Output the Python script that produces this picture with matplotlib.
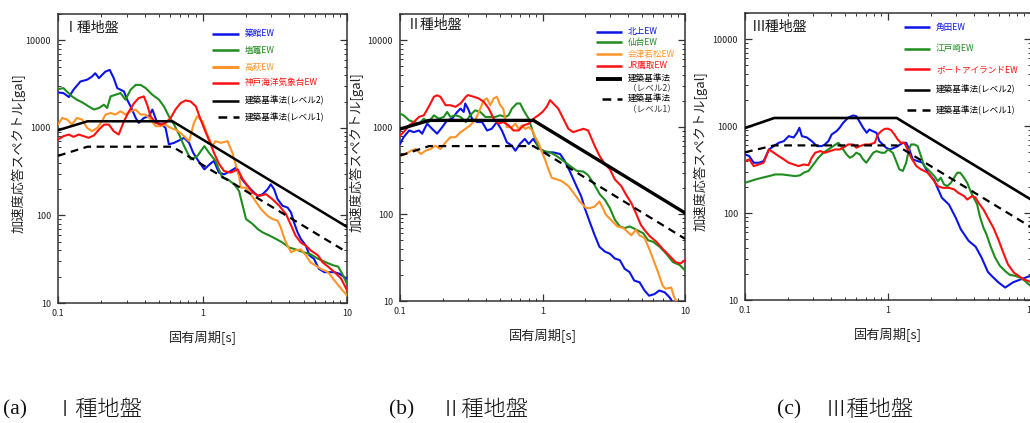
import matplotlib
matplotlib.use('Agg')
import matplotlib.pyplot as plt
from matplotlib.ticker import LogLocator, NullFormatter

plt.rcParams['font.family'] = ['Noto Sans CJK JP', 'DejaVu Sans']

BLUE = '#0a14e6'
GREEN = '#1f8c1f'
ORANGE = '#ff9428'
RED = '#ff1010'

# ---- I種地盤 ----
T_TSUKIDATE = [0.1, 0.109, 0.119, 0.128, 0.143, 0.159, 0.172, 0.181, 0.192, 0.202, 0.213, 0.228, 0.243, 0.257,
               0.286, 0.301, 0.322, 0.345, 0.362, 0.393, 0.426, 0.45, 0.486, 0.522, 0.555, 0.585, 0.636, 0.689,
               0.746, 0.808, 0.862, 0.936, 1.03, 1.12, 1.2, 1.3, 1.41, 1.57, 1.7, 1.84, 2.0, 2.22, 2.41, 2.61,
               2.82, 2.97, 3.13, 3.31, 3.58, 3.88, 4.1, 4.3, 4.55, 4.79, 5.2, 5.5, 5.9, 6.4, 6.97, 7.6, 8.2,
               8.9, 9.6, 10]
A_TSUKIDATE = [2540, 2500, 2250, 2730, 3390, 3550, 3860, 4210, 3700, 4040, 4400, 4600, 3700, 2850,
               2610, 2100, 1690, 1300, 1140, 1300, 1360, 1620, 1140, 1090, 1000, 650, 675, 720,
               770, 675, 520, 420, 336, 383, 420, 308, 295, 322, 351, 270, 227, 190, 167, 175,
               199, 227, 199, 153, 129, 123, 108, 83, 64, 54, 45, 35, 32, 24.5, 22.5, 22.5, 22.5,
               21.5, 19.7, 19]

T_SHIOGAMA = [0.1, 0.109, 0.115, 0.125, 0.135, 0.147, 0.163, 0.177, 0.192, 0.208, 0.219, 0.231, 0.25, 0.271,
              0.293, 0.318, 0.345, 0.373, 0.404, 0.45, 0.5, 0.541, 0.585, 0.636, 0.689, 0.746, 0.83, 0.92,
              1.03, 1.11, 1.23, 1.37, 1.49, 1.66, 1.79, 2.0, 2.22, 2.41, 2.61, 2.9, 3.22, 3.58, 3.98, 4.4,
              5.0, 5.6, 6.3, 7.2, 8.0, 8.7, 9.4, 10]
A_SHIOGAMA = [2770, 2850, 2610, 2290, 2100, 1960, 1760, 1620, 1690, 1840, 1690, 2290, 2390, 2500,
              2100, 2730, 3100, 3100, 2850, 2390, 2100, 1760, 1360, 1090, 840, 620, 437, 476,
              619, 520, 420, 270, 259, 227, 190, 91, 80, 70, 64, 59, 54, 49, 43, 41,
              38, 36, 32, 29, 27, 26, 20.6, 16.5]

T_TAKAHAGI = [0.1, 0.107, 0.116, 0.125, 0.135, 0.147, 0.159, 0.172, 0.187, 0.202, 0.213, 0.231, 0.25, 0.271,
              0.293, 0.318, 0.345, 0.373, 0.404, 0.437, 0.474, 0.513, 0.555, 0.602, 0.65, 0.705, 0.746, 0.808,
              0.872, 0.92, 1.0, 1.08, 1.17, 1.23, 1.34, 1.49, 1.61, 1.79, 1.84, 2.0, 2.28, 2.54, 2.82, 3.05,
              3.31, 3.48, 3.69, 3.88, 4.1, 4.4, 4.79, 5.2, 5.6, 6.03, 6.6, 7.4, 8.2, 9.1, 10]
A_TAKAHAGI = [1090, 1300, 1245, 1090, 1300, 1245, 1000, 916, 1000, 1190, 1420, 1480, 1420, 1550,
              1420, 1550, 1620, 1420, 1420, 1245, 1045, 1045, 1090, 1000, 957, 877, 804, 705,
              1140, 1358, 1190, 840, 619, 705, 675, 705, 520, 282, 208, 208, 153, 118, 99, 91,
              87, 73, 54, 45, 38, 40, 41, 35, 29, 27, 24.5, 22.5, 18, 14.6, 12.2]

T_KOBE = [0.1, 0.109, 0.119, 0.128, 0.139, 0.151, 0.163, 0.177, 0.192, 0.208, 0.225, 0.243, 0.263, 0.286,
          0.31, 0.336, 0.362, 0.393, 0.414, 0.437, 0.474, 0.513, 0.555, 0.602, 0.65, 0.705, 0.764, 0.829,
          0.9, 0.97, 1.05, 1.14, 1.2, 1.3, 1.41, 1.57, 1.75, 1.9, 2.06, 2.22, 2.47, 2.75, 3.05, 3.4,
          3.79, 4.1, 4.4, 4.79, 5.2, 5.6, 6.3, 6.8, 7.4, 8.2, 9.1, 10]
A_KOBE = [737, 804, 840, 790, 840, 804, 770, 820, 957, 1090, 1090, 916, 840, 1190,
          1550, 1920, 2190, 2290, 1840, 1360, 1140, 1090, 1140, 1300, 1620, 1920, 2060, 2000,
          1760, 1250, 900, 650, 520, 390, 322, 308, 337, 259, 217, 182, 167, 175, 153, 129,
          103, 77, 59, 49, 45, 40, 35, 29, 26, 22.5, 19, 14]

LV_T_1 = [0.1, 0.16, 0.62, 10]
LV2_A_1 = [940, 1190, 1190, 74]
LV1_A_1 = [480, 610, 610, 38]

# ---- II種地盤 ----
T_KITAKAMI = [0.1, 0.106, 0.116, 0.125, 0.136, 0.143, 0.155, 0.168, 0.182, 0.198, 0.214, 0.232, 0.252, 0.266,
              0.28, 0.287, 0.3, 0.32, 0.347, 0.377, 0.408, 0.44, 0.478, 0.519, 0.562, 0.61, 0.645, 0.694,
              0.751, 0.8, 0.86, 0.91, 0.96, 1.07, 1.19, 1.33, 1.43, 1.55, 1.73, 1.87, 1.98, 2.14, 2.32,
              2.51, 2.74, 2.97, 3.22, 3.49, 3.77, 4.08, 4.4, 4.8, 5.2, 5.6, 6.1, 6.6, 7.2, 7.8, 8.2, 8.6]
A_KITAKAMI = [640, 765, 915, 875, 915, 840, 1095, 956, 840, 1000, 1195, 1250, 1494, 1633,
              1494, 1870, 1633, 1250, 1143, 1143, 915, 956, 1143, 915, 669, 612, 535, 640,
              732, 640, 732, 640, 560, 512, 512, 490, 410, 314, 210, 160, 117, 82, 57.5,
              42, 37, 35, 30.8, 29.5, 23.5, 21.5, 17.2, 16.4, 13.2, 11.5, 12, 13.2, 12.6, 11, 9.6, 8]

T_SENDAI = [0.1, 0.106, 0.116, 0.125, 0.136, 0.147, 0.159, 0.173, 0.187, 0.203, 0.214, 0.226, 0.245, 0.266,
            0.29, 0.31, 0.337, 0.366, 0.397, 0.43, 0.466, 0.505, 0.548, 0.578, 0.61, 0.66, 0.697, 0.736,
            0.8, 0.864, 0.935, 1.0, 1.13, 1.25, 1.4, 1.56, 1.74, 1.94, 2.09, 2.27, 2.53, 2.74, 2.97,
            3.22, 3.49, 3.78, 4.1, 4.56, 5.1, 5.5, 5.96, 6.64, 7.39, 8.23, 9.16, 10]
A_SENDAI = [1430, 1367, 1195, 1143, 1095, 1250, 1143, 1367, 1250, 1310, 1494, 1310, 1367, 1310,
            1143, 1367, 1560, 1494, 1310, 1310, 1310, 1367, 1310, 1367, 1633, 1870, 1870, 1560,
            1250, 840, 585, 535, 512, 468, 410, 358, 314, 308, 280, 229, 168, 146, 117,
            86, 72, 69, 72, 66, 60, 50, 48, 42, 35, 28, 26, 22.5]

T_AIZU = [0.1, 0.11, 0.119, 0.129, 0.14, 0.151, 0.164, 0.177, 0.192, 0.209, 0.226, 0.245, 0.266, 0.288,
          0.31, 0.337, 0.366, 0.387, 0.408, 0.43, 0.454, 0.478, 0.505, 0.53, 0.562, 0.61, 0.645, 0.68,
          0.72, 0.755, 0.8, 0.85, 0.89, 0.94, 0.99, 1.05, 1.1, 1.16, 1.26, 1.36, 1.52, 1.64, 1.82,
          2.03, 2.15, 2.32, 2.51, 2.65, 2.79, 3.1, 3.36, 3.7, 4.2, 4.52, 4.79, 5.2, 5.6, 5.9, 6.4,
          6.97, 7.3, 8.0, 8.4, 8.9]
A_AIZU = [468, 490, 535, 560, 490, 535, 560, 612, 560, 669, 765, 765, 875, 956,
          1046, 1195, 1633, 2040, 2135, 1786, 2135, 2235, 1786, 1633, 1000, 1000, 1095, 956,
          1046, 956, 1000, 915, 765, 650, 520, 409, 328, 262, 250, 240, 210, 178, 140,
          117, 117, 122, 140, 117, 98, 82, 72, 69, 57, 66, 57, 53, 40, 32, 22.5,
          15, 13.8, 14.3, 11, 9.4]

T_TAKATORI = [0.1, 0.106, 0.116, 0.125, 0.136, 0.147, 0.159, 0.173, 0.182, 0.192, 0.209, 0.226, 0.245, 0.266,
              0.29, 0.3, 0.329, 0.357, 0.387, 0.42, 0.454, 0.49, 0.53, 0.578, 0.626, 0.68, 0.736, 0.8,
              0.864, 0.935, 1.0, 1.07, 1.13, 1.19, 1.29, 1.4, 1.52, 1.64, 1.78, 1.94, 2.09, 2.32, 2.51,
              2.74, 2.97, 3.22, 3.57, 3.85, 4.2, 4.52, 4.9, 5.3, 5.7, 6.3, 6.95, 7.7, 8.6, 9.3, 10]
A_TAKATORI = [800, 875, 1046, 1143, 1310, 1367, 1710, 2235, 2320, 2235, 1786, 1786, 1710, 1870,
              2235, 2335, 2235, 2135, 1953, 1633, 1250, 1095, 1143, 1046, 915, 915, 1046, 1095,
              1250, 1367, 1494, 1710, 2040, 1870, 1633, 1250, 956, 875, 915, 956, 915, 612, 468,
              375, 328, 250, 210, 168, 134, 103, 75, 63, 55, 48, 40, 33.7, 28, 27, 29.5]

LV_T_2 = [0.1, 0.16, 0.864, 10]
LV2_A_2 = [950, 1195, 1195, 103]
LV1_A_2 = [470, 605, 605, 52]

# ---- III種地盤 ----
T_KAKUDA = [0.1, 0.107, 0.115, 0.125, 0.135, 0.147, 0.159, 0.172, 0.187, 0.202, 0.219, 0.231, 0.24, 0.25,
            0.271, 0.293, 0.318, 0.345, 0.362, 0.383, 0.404, 0.437, 0.459, 0.486, 0.526, 0.57, 0.6, 0.63,
            0.67, 0.71, 0.74, 0.78, 0.83, 0.87, 0.92, 0.97, 1.03, 1.11, 1.17, 1.27, 1.34, 1.41, 1.49,
            1.61, 1.75, 1.9, 2.1, 2.38, 2.67, 2.98, 3.23, 3.66, 4.1, 4.5, 5.0, 5.3, 5.9, 6.6, 7.5,
            8.5, 9.5, 10]
A_KAKUDA = [473, 452, 379, 379, 396, 539, 589, 643, 672, 767, 740, 838, 957, 767,
            740, 672, 589, 589, 615, 672, 803, 876, 957, 1092, 1250, 1325, 1303, 1140,
            957, 838, 915, 876, 838, 672, 615, 564, 539, 564, 589, 643, 643, 539, 414,
            396, 379, 291, 240, 150, 125, 88, 65, 48, 41, 31, 21, 19, 16, 13.9, 16,
            17.3, 18.5, 19]

T_EDOSAKI = [0.1, 0.109, 0.119, 0.132, 0.147, 0.163, 0.182, 0.202, 0.225, 0.243, 0.257, 0.278, 0.301, 0.326,
             0.353, 0.383, 0.414, 0.45, 0.47, 0.486, 0.513, 0.541, 0.57, 0.6, 0.636, 0.67, 0.705, 0.746,
             0.788, 0.83, 0.9, 0.95, 1.0, 1.08, 1.14, 1.2, 1.27, 1.34, 1.4, 1.45, 1.53, 1.61, 1.7,
             1.79, 1.9, 2.0, 2.11, 2.23, 2.34, 2.46, 2.6, 2.75, 2.9, 3.05, 3.2, 3.4, 3.58, 3.78,
             3.98, 4.2, 4.4, 4.65, 4.9, 5.2, 5.6, 6.03, 6.6, 7.1, 7.8, 8.4, 9.1, 9.6, 10]
A_EDOSAKI = [223, 233, 244, 255, 266, 278, 278, 272, 266, 272, 291, 305, 362, 433,
             494, 539, 589, 643, 589, 539, 473, 433, 452, 494, 473, 414, 379, 433,
             494, 516, 494, 494, 539, 494, 396, 318, 305, 379, 539, 615, 615, 589, 452,
             347, 318, 291, 266, 233, 255, 214, 204, 223, 255, 291, 291, 255, 223, 178,
             150, 126, 90, 68, 56, 42, 31, 25, 21.5, 19.5, 18.9, 18.1, 16.5, 15.2, 14.5]

T_PORT = [0.1, 0.107, 0.115, 0.125, 0.135, 0.147, 0.159, 0.172, 0.187, 0.202, 0.219, 0.237, 0.257, 0.278,
          0.293, 0.31, 0.336, 0.362, 0.393, 0.426, 0.46, 0.486, 0.526, 0.57, 0.6, 0.636, 0.689, 0.746,
          0.808, 0.85, 0.9, 0.95, 1.0, 1.05, 1.11, 1.17, 1.23, 1.3, 1.37, 1.45, 1.58, 1.7, 1.9,
          2.06, 2.23, 2.41, 2.68, 2.9, 3.1, 3.4, 3.58, 3.88, 4.1, 4.3, 4.65, 5.0, 5.45, 5.9, 6.4,
          6.9, 7.6, 8.2, 8.9, 9.6, 10]
A_PORT = [396, 414, 347, 362, 379, 539, 494, 452, 414, 379, 362, 347, 362, 355,
          433, 494, 516, 494, 516, 539, 539, 564, 615, 615, 564, 589, 615, 615,
          643, 803, 880, 930, 935, 900, 800, 700, 643, 643, 539, 433, 347, 318, 291,
          244, 204, 195, 195, 187, 171, 157, 143, 157, 150, 131, 110, 88, 68, 50, 35,
          25.7, 20.6, 18.9, 17.3, 16.5, 16]

LV_T_3 = [0.1, 0.16, 1.15, 10]
LV2_A_3 = [950, 1240, 1240, 143]
LV1_A_3 = [500, 600, 600, 69]

W, H = 1030, 423
fig = plt.figure(figsize=(W / 100, H / 100), dpi=100)
fig.patch.set_facecolor('white')


def panel(left, top, right, bottom, title, title_xy, curves, lv_t, lv2, lv1, lv2_lw, ylab_x):
    ax = fig.add_axes([left / W, 1 - bottom / H, (right - left) / W, (bottom - top) / H])
    ax.set_xscale('log')
    ax.set_yscale('log')
    for t, a, c in curves:
        ax.plot(t, a, color=c, lw=1.5, zorder=3)
    ax.plot(lv_t, lv2, color='black', lw=lv2_lw, zorder=4)
    ax.plot(lv_t, lv1, color='black', lw=1.6, ls=(0, (3.5, 2.5)), zorder=4)
    ax.set_xlim(0.1, 10)
    ax.set_ylim(10, 20000)
    ax.set_xticks([0.1, 1, 10])
    ax.set_xticklabels(['0.1', '1', '10'])
    ax.set_yticks([10, 100, 1000, 10000])
    ax.set_yticklabels(['10', '100', '1000', '10000'])
    for axis in (ax.xaxis, ax.yaxis):
        axis.set_minor_locator(LogLocator(base=10, subs=range(2, 10), numticks=20))
        axis.set_minor_formatter(NullFormatter())
    ax.tick_params(which='both', direction='in', top=True, right=True, colors='#333333',
                   labelsize=6.5, labelcolor='#222222')
    ax.tick_params(which='major', length=5, width=0.9, pad=4)
    ax.tick_params(which='minor', length=2.5, width=0.7)
    ax.tick_params(axis='y', pad=5)
    for s in ax.spines.values():
        s.set_color('#333333')
        s.set_linewidth(1.1)
    ax.text(title_xy[0], title_xy[1], title, transform=ax.transAxes, fontsize=10,
            ha='left', va='center', color='#1a1a1a')
    ax.text(0.5, -0.118, '固有周期[s]', transform=ax.transAxes, fontsize=9.5,
            ha='center', va='center', color='#222222')
    ax.text(ylab_x, 0.52, '加速度応答スペクトル[gal]', transform=ax.transAxes, fontsize=9.5,
            rotation=90, ha='center', va='center', color='#222222')
    return ax


def legend_row(ax, x0, x1, xt, y, color, text, dashed=False, lw=1.8):
    ls = (0, (3.5, 2.5)) if dashed else '-'
    ax.plot([x0, x1], [y, y], transform=ax.transAxes, color=color, lw=lw, ls=ls,
            solid_capstyle='butt', dash_capstyle='butt', clip_on=False, zorder=6)
    ax.text(xt, y, text, transform=ax.transAxes, color=color, fontsize=6.2,
            ha='left', va='center', zorder=6)


# (a) I種地盤
ax1 = panel(58, 14, 347, 303, 'Ⅰ種地盤', (0.02, 0.952),
            [(T_TSUKIDATE, A_TSUKIDATE, BLUE), (T_SHIOGAMA, A_SHIOGAMA, GREEN),
             (T_TAKAHAGI, A_TAKAHAGI, ORANGE), (T_KOBE, A_KOBE, RED)],
            LV_T_1, LV2_A_1, LV1_A_1, 1.8, -0.138)
LX1 = (0.533, 0.625, 0.645)
legend_row(ax1, LX1[0], LX1[1], LX1[2], 0.931, BLUE, '築館EW')
legend_row(ax1, LX1[0], LX1[1], LX1[2], 0.875, GREEN, '塩竈EW')
legend_row(ax1, LX1[0], LX1[1], LX1[2], 0.815, ORANGE, '高萩EW', lw=2.2)
legend_row(ax1, LX1[0], LX1[1], LX1[2], 0.762, RED, '神戸海洋気象台EW')
legend_row(ax1, LX1[0], LX1[1], LX1[2], 0.700, 'black', '建築基準法(レベル2)')
legend_row(ax1, 0.553, LX1[1], LX1[2], 0.643, 'black', '建築基準法(レベル1)', dashed=True)

# (b) II種地盤
ax2 = panel(400, 14, 685, 301, 'Ⅱ種地盤', (0.025, 0.962),
            [(T_KITAKAMI, A_KITAKAMI, BLUE), (T_SENDAI, A_SENDAI, GREEN),
             (T_AIZU, A_AIZU, ORANGE), (T_TAKATORI, A_TAKATORI, RED)],
            LV_T_2, LV2_A_2, LV1_A_2, 2.4, -0.154)
LX2 = (0.688, 0.78, 0.80)
legend_row(ax2, LX2[0], LX2[1], LX2[2], 0.938, BLUE, '北上EW')
legend_row(ax2, LX2[0], LX2[1], LX2[2], 0.901, GREEN, '仙台EW')
legend_row(ax2, LX2[0], LX2[1], LX2[2], 0.860, ORANGE, '会津若松EW')
legend_row(ax2, LX2[0], LX2[1], LX2[2], 0.819, RED, 'JR鷹取EW')
legend_row(ax2, LX2[0], LX2[1], LX2[2], 0.775, 'black', '建築基準法', lw=2.8)
ax2.text(LX2[2], 0.739, '（レベル2）', transform=ax2.transAxes, fontsize=6.2,
         ha='left', va='center', color='#333333')
legend_row(ax2, 0.709, LX2[1], LX2[2], 0.705, 'black', '建築基準法', dashed=True)
ax2.text(LX2[2], 0.668, '（レベル1）', transform=ax2.transAxes, fontsize=6.2,
         ha='left', va='center', color='#333333')

# (c) III種地盤
ax3 = panel(745, 13, 1031, 300, 'Ⅲ種地盤', (0.024, 0.951),
            [(T_KAKUDA, A_KAKUDA, BLUE), (T_EDOSAKI, A_EDOSAKI, GREEN), (T_PORT, A_PORT, RED)],
            LV_T_3, LV2_A_3, LV1_A_3, 1.9, -0.154)
LX3 = (0.556, 0.648, 0.668)
legend_row(ax3, LX3[0], LX3[1], LX3[2], 0.950, BLUE, '角田EW')
legend_row(ax3, LX3[0], LX3[1], LX3[2], 0.875, GREEN, '江戸崎EW')
legend_row(ax3, LX3[0], LX3[1], LX3[2], 0.804, RED, 'ポートアイランドEW')
legend_row(ax3, LX3[0], LX3[1], LX3[2], 0.732, 'black', '建築基準法(レベル2)')
legend_row(ax3, 0.566, LX3[1], LX3[2], 0.662, 'black', '建築基準法(レベル1)', dashed=True)

# captions
CAP_Y = 1 - 410 / H
for xa, lab, xb, txt in [(3, '(a)', 54, 'Ⅰ種地盤'), (389, '(b)', 440, 'Ⅱ種地盤'),
                         (777, '(c)', 825, 'Ⅲ種地盤')]:
    fig.text(xa / W, CAP_Y, lab, fontsize=15.5, family=['Liberation Serif', 'DejaVu Serif'],
             ha='left', va='center', color='#111111')
    fig.text(xb / W, CAP_Y, txt, fontsize=16, ha='left', va='center', color='#111111',
             fontweight='light')

fig.savefig('out.png', dpi=100, facecolor='white')
